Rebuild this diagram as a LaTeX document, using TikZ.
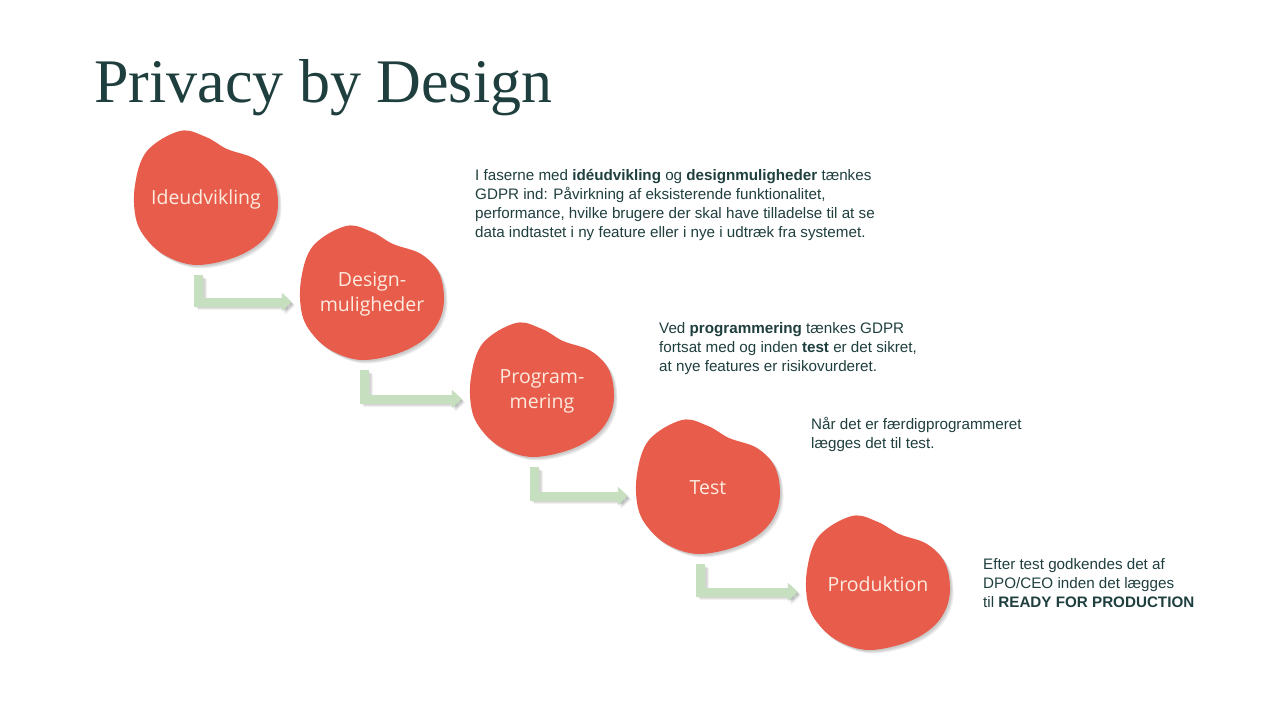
\documentclass[tikz,border=0pt]{standalone}
\usepackage{fontspec}
\setmainfont{Liberation Sans}
\newfontfamily\titlefont{Liberation Serif}
\newfontfamily\blobfont{Open Sans}
\usetikzlibrary{arrows.meta}
\definecolor{blobred}{HTML}{E85C4B}
\definecolor{blobtext}{HTML}{FCEBDF}
\definecolor{arrowgreen}{HTML}{C5DFBF}
\definecolor{darkteal}{HTML}{1F3F3E}
\tikzset{
  blobnode/.style={minimum width=144pt, minimum height=134pt, inner sep=0pt, align=center,
    text=blobtext, font=\blobfont\fontsize{19.5}{25}\selectfont},
  blobfill/.style={fill=blobred},
  blobshadow/.style={fill=black, opacity=0.07},
  greenarrow/.style={draw=arrowgreen, line width=9pt, line join=miter,
    -{Triangle[width=18pt,length=10pt]}},
  greenshadow/.style={draw=black, opacity=0.06, line width=9pt, line join=miter,
    -{Triangle[width=18pt,length=10pt]}},
  infotext/.style={anchor=base west, inner sep=0pt, align=left, text=darkteal,
    font=\fontsize{15.2}{18.7}\selectfont},
}
\newcommand{\blobpath}{plot[smooth cycle, tension=0.6] coordinates {(46,0) (72,6) (93,18) (121,28) (139,47) (144,74) (138,97) (122,115) (96,128) (62,134) (34,126) (14,110) (2,88) (1,54) (13,20)}}
\begin{document}
\begin{tikzpicture}[x=1pt, y=-1pt]
\useasboundingbox[fill=white] (0,0) rectangle (1280,720);
\node[anchor=base west, inner sep=0pt, text=darkteal, font=\titlefont\fontsize{62}{70}\selectfont] (title) at (94,102) {Privacy by Design};

\foreach \n/\x/\y in {1/134/131, 2/300/226, 3/470/323, 4/636/420, 5/806/516} {
  \foreach \s in {1.5,2.5,3.5} {
    \begin{scope}[shift={(\x+\s,\y+\s)}]
      \path[blobshadow] \blobpath;
    \end{scope}
  }
  \begin{scope}[shift={(\x,\y)}]
    \path[blobfill] \blobpath;
  \end{scope}
}
\node[blobnode] (b1) at (206,199) {Ideudvikling};
\node[blobnode] (b2) at (372,294) {Design-\\muligheder};
\node[blobnode] (b3) at (542,391) {Program-\\mering};
\node[blobnode] (b4) at (708,488) {Test};
\node[blobnode] (b5) at (878,584) {Produktion};

\foreach \a/\b in {b1/b2, b2/b3, b3/b4, b4/b5} {
  \foreach \s in {1.5,2.5,3.5} {
    \draw[greenshadow] ([shift={(-7.5+\s,9+\s)}]\a.south) |- ([shift={(-8+\s,8+\s)}]\b.west);
  }
  \draw[greenarrow] ([shift={(-7.5,9)}]\a.south) |- ([shift={(-8,8)}]\b.west);
}

\node[infotext] (t1) at (475,237) {I faserne med \textbf{idéudvikling} og \textbf{designmuligheder} tænkes\\GDPR ind: Påvirkning af eksisterende funktionalitet,\\performance, hvilke brugere der skal have tilladelse til at se\\data indtastet i ny feature eller i nye i udtræk fra systemet.};
\node[infotext] (t2) at (659,371) {Ved \textbf{programmering} tænkes GDPR\\fortsat med og inden \textbf{test} er det sikret,\\at nye features er risikovurderet.};
\node[infotext] (t3) at (811,448) {Når det er færdigprogrammeret\\lægges det til test.};
\node[infotext] (t4) at (983,607) {Efter test godkendes det af\\DPO/CEO inden det lægges\\til \textbf{READY FOR PRODUCTION}};
\end{tikzpicture}
\end{document}
